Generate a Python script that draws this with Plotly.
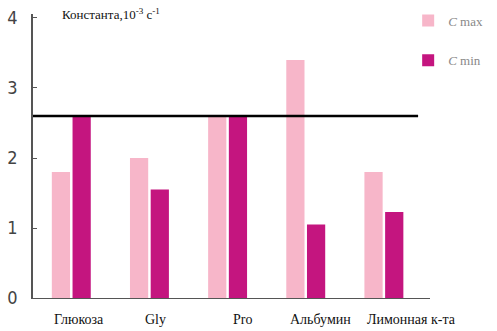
import plotly.graph_objects as go

# Reaction rate constants, 10^-3 s^-1
categories = ["Глюкоза", "Gly", "Pro", "Альбумин", "Лимонная к-та"]
c_max = [1.8, 2.0, 2.6, 3.4, 1.8]
c_min = [2.6, 1.55, 2.6, 1.05, 1.23]
reference_level = 2.6
y_ticks = [0, 1, 2, 3, 4]

PINK = "#f7b6c9"
MAGENTA = "#c4157f"
SERIF = "Times New Roman"
NARROW = "Liberation Sans Narrow, DejaVu Sans Condensed, Arial Narrow, sans-serif"

fig = go.Figure()
fig.add_trace(go.Bar(x=categories, y=c_max, name="<i>C</i> max",
                     marker=dict(color=PINK, line=dict(width=0)),
                     legendgroup="a"))
fig.add_trace(go.Bar(x=categories, y=c_min, name="<i>C</i> min",
                     marker=dict(color=MAGENTA, line=dict(width=0)),
                     legendgroup="b"))

# horizontal reference level
fig.add_shape(type="line", xref="paper", yref="y",
              x0=0, x1=0.97, y0=reference_level, y1=reference_level,
              line=dict(color="black", width=2.5))

# category labels under the axis
label_shift = [8, 6, 15, 15, 28]
for cat, dx in zip(categories, label_shift):
    fig.add_annotation(x=cat, y=0, yref="y", yanchor="top", yshift=-12,
                       xshift=dx, text=cat, showarrow=False,
                       font=dict(family=SERIF, size=14, color="#111"))

fig.add_annotation(xref="paper", yref="paper", x=0.068, y=1.0,
                   xanchor="left", yanchor="middle", yshift=0,
                   text="Константа,10<sup>-3</sup> с<sup>-1</sup>",
                   showarrow=False,
                   font=dict(family=SERIF, size=13, color="#111"))

fig.update_layout(
    width=497, height=331,
    margin=dict(l=33, r=67, t=14, b=33, autoexpand=False),
    paper_bgcolor="white", plot_bgcolor="white",
    barmode="group", bargap=0.47, bargroupgap=0.12,
    legend=dict(x=0.945, y=1.03, xanchor="left", yanchor="top",
                font=dict(family=SERIF, size=13, color="#888"),
                tracegroupgap=20, traceorder="grouped",
                bgcolor="rgba(0,0,0,0)"),
    xaxis=dict(range=[-0.49, 4.59], showticklabels=False, showgrid=False,
               showline=True, linecolor="#555", linewidth=1.2, ticks="",
               automargin=False),
    yaxis=dict(range=[0, 4.057], tickvals=y_ticks, showgrid=False, zeroline=False,
               showline=True, linecolor="#555", linewidth=1.5,
               ticks="inside", ticklen=4, tickcolor="#555",
               ticklabelstandoff=10, automargin=False,
               tickfont=dict(family=NARROW, size=18, color="#444")),
)

fig.write_html("out.html")
